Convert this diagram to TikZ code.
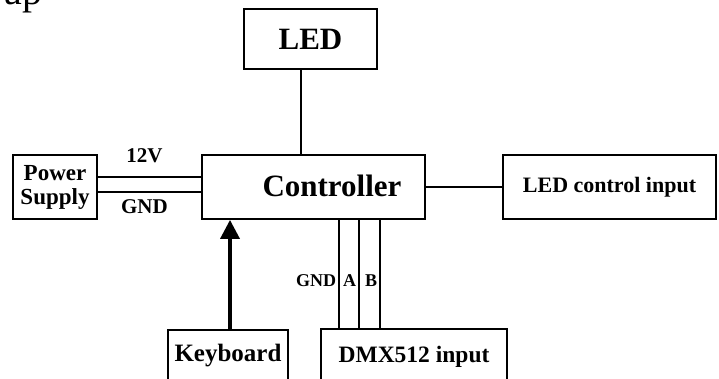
\documentclass[tikz,border=0pt]{standalone}
\usepackage{fontspec}
\setmainfont{Liberation Serif}
\usetikzlibrary{arrows.meta}

\begin{document}
\begin{tikzpicture}[x=1pt, y=-1pt, line width=1.8pt,
    blk/.style={draw, rectangle, inner sep=0pt},
    bigtxt/.style={font=\fontsize{31}{31}\selectfont\bfseries},
    midtxt/.style={font=\fontsize{#1}{24}\selectfont\bfseries},
    lbl/.style={font=\fontsize{21}{21}\selectfont\bfseries, inner sep=0pt},
    sml/.style={font=\fontsize{18}{18}\selectfont\bfseries, inner sep=0pt}]

    \useasboundingbox (0,0) rectangle (719,378);

    \node (hdr) [anchor=base east, inner sep=0pt, font=\fontsize{40}{40}\selectfont] at (43,4) {ap};

    \node (led) [blk, bigtxt, minimum width=133pt, minimum height=60pt] at (310.5,39) {LED};
    \node (ctrl) [blk, minimum width=223pt, minimum height=64pt] at (313.5,187) {};
    \node (ctrltxt) [bigtxt, inner sep=0pt] at (332,186) {Controller};
    \node (psu) [blk, midtxt=23, align=center, minimum width=84pt, minimum height=64pt] at (55,187) {Power\\Supply};
    \node (ledin) [blk, midtxt=22, minimum width=213pt, minimum height=64pt] at (609.5,187) {LED control input};
    \node (kbd) [blk, midtxt=25, minimum width=120pt, minimum height=51pt] at (228,355.5) {Keyboard};
    \node (dmx) [blk, midtxt=23.5, minimum width=186pt, minimum height=56pt] at (414,357) {DMX512 input};

    \path
    (psu.east |- 0,177) edge node[lbl, above=13pt, pos=0.45] {12V} (ctrl.west |- 0,177)
    (psu.east |- 0,192) edge node[lbl, below=7pt, pos=0.45] {GND} (ctrl.west |- 0,192)
    (led.south -| 301,0) edge (ctrl.north -| 301,0)
    (ctrl.east) edge (ledin.west)
    (dmx.north -| 339,0) edge node[sml, left=2pt, pos=0.44] {GND} (ctrl.south -| 339,0)
    (dmx.north -| 359,0) edge node[sml, left=2pt, pos=0.44] {A} (ctrl.south -| 359,0)
    (dmx.north -| 380,0) edge node[sml, left=2pt, pos=0.44] {B} (ctrl.south -| 380,0)
    ([xshift=2pt]kbd.north) edge[-{Triangle[width=19pt, length=19pt]}, line width=3.5pt] ([xshift=2pt]kbd.north |- ctrl.south);
\end{tikzpicture}
\end{document}
